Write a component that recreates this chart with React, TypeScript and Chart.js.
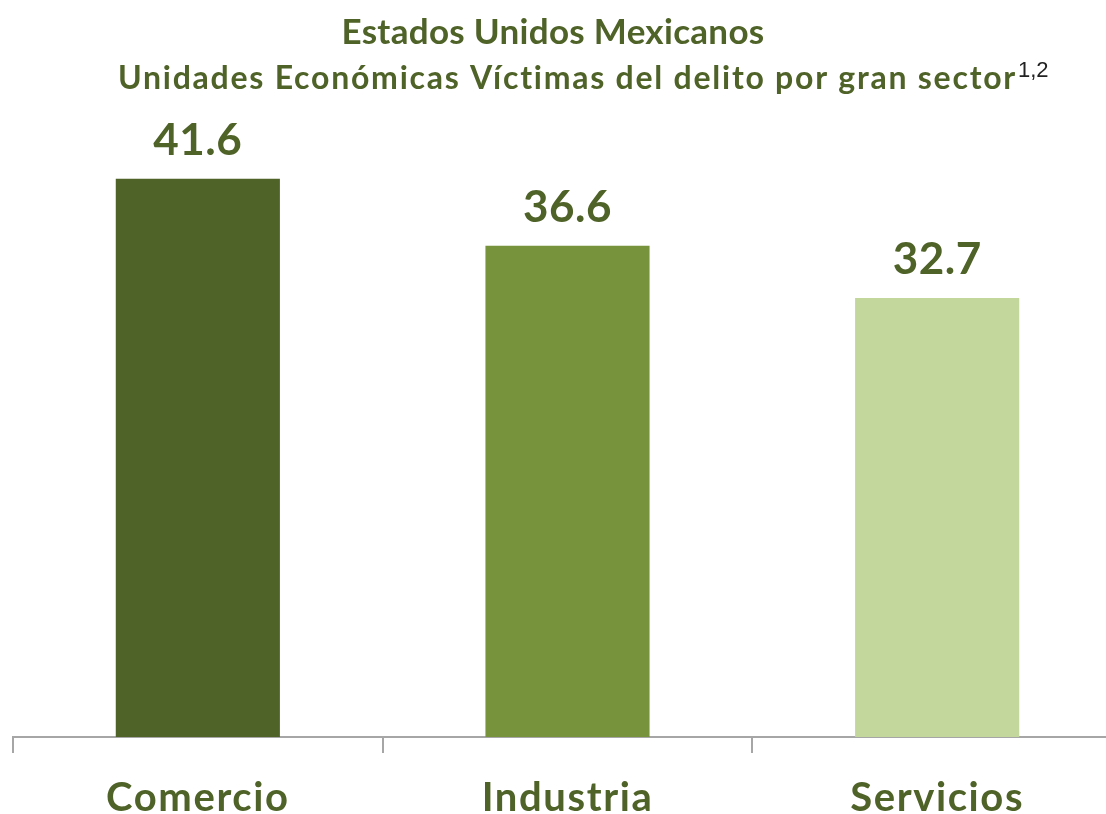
import React, { useEffect, useRef } from "react";
import { Chart, registerables } from "chart.js";

Chart.register(...registerables);

const categories = ["Comercio", "Industria", "Servicios"];
const values = [41.6, 36.6, 32.7];
const barColors = ["#4F6228", "#77933C", "#C3D69B"];
const titleText = "Estados Unidos Mexicanos";
const subtitleText = "Unidades Económicas Víctimas del delito por gran sector";
const superscriptText = "1,2";

const OLIVE = "#4F6228";
const FONT = "Lato";

const spacingPlugin = {
  id: "spacing",
  beforeDraw(chart: any) {
    chart.ctx.letterSpacing = "1.6px";
  },
  afterDraw(chart: any) {
    chart.ctx.letterSpacing = "0px";
  },
};

const textPlugin = {
  id: "texts",
  afterDatasetsDraw(chart: any) {
    const ctx = chart.ctx;
    ctx.save();
    // data labels
    const meta = chart.getDatasetMeta(0);
    ctx.letterSpacing = "0.5px";
    ctx.font = `bold 44px ${FONT}`;
    ctx.fillStyle = OLIVE;
    ctx.textAlign = "center";
    ctx.textBaseline = "alphabetic";
    meta.data.forEach((bar: any, i: number) => {
      ctx.fillText(values[i].toFixed(1), bar.x, bar.y - 24);
    });
    // title
    ctx.letterSpacing = "0.3px";
    ctx.font = `bold 35px ${FONT}`;
    ctx.fillText(titleText, 553, 44);
    // subtitle + superscript
    ctx.letterSpacing = "1.75px";
    ctx.font = `bold 32px ${FONT}`;
    const w1 = ctx.measureText(subtitleText).width;
    const x0 = 118;
    ctx.textAlign = "left";
    ctx.fillStyle = OLIVE;
    ctx.fillText(subtitleText, x0, 89);
    ctx.letterSpacing = "0px";
    ctx.font = `22px Arial, "Liberation Sans"`;
    ctx.fillStyle = "#222222";
    ctx.fillText(superscriptText, x0 + w1 + 1, 77);
    ctx.restore();
  },
};

export default function App() {
  const ref = useRef<HTMLCanvasElement>(null);
  useEffect(() => {
    if (!ref.current) return;
    const chart = new Chart(ref.current, {
      type: "bar",
      data: {
        labels: categories,
        datasets: [
          {
            data: values,
            backgroundColor: barColors,
            borderWidth: 0,
            barPercentage: 0.444,
            categoryPercentage: 1,
          },
        ],
      },
      options: {
        animation: false,
        responsive: false,
        maintainAspectRatio: false,
        layout: { padding: { top: 133, left: 13, right: 0, bottom: 0 } },
        plugins: {
          legend: { display: false },
          title: { display: false },
          tooltip: { enabled: false },
        },
        scales: {
          y: { display: false, min: 0, max: 45 },
          x: {
            afterFit: (scale: any) => {
              scale.height = 77;
            },
            border: { display: true, color: "#A6A6A6", width: 2 },
            grid: {
              display: true,
              offset: true,
              drawOnChartArea: false,
              drawTicks: true,
              tickLength: 16,
              color: "#A6A6A6",
              lineWidth: 2,
            },
            ticks: {
              color: OLIVE,
              font: { family: FONT, size: 40, weight: "bold" },
              padding: 21,
            },
          },
        },
      },
      plugins: [spacingPlugin, textPlugin],
    });
    return () => chart.destroy();
  }, []);
  return (
    <div style={{ position: "fixed", left: 0, top: 0, width: 1106, height: 814, overflow: "hidden", background: "#fff" }}>
      <canvas ref={ref} width={1122} height={814} style={{ display: "block" }} />
    </div>
  );
}
